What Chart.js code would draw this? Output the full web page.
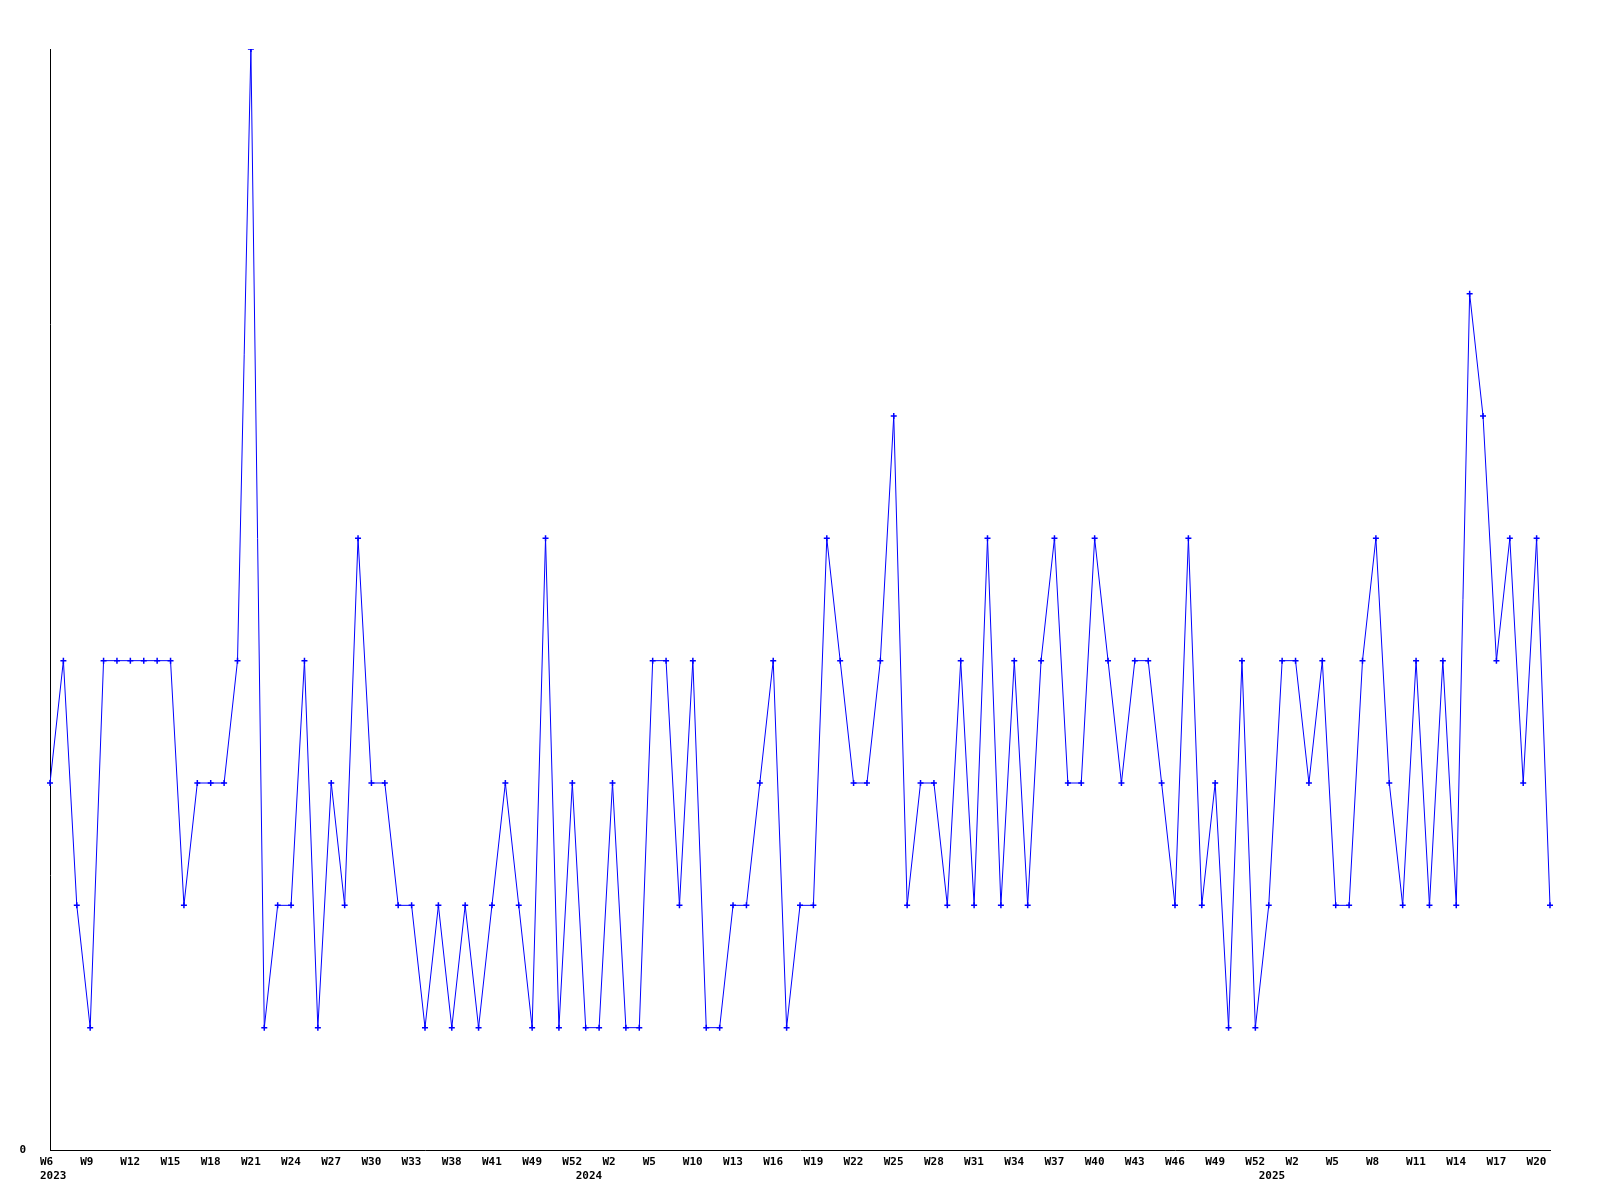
<!DOCTYPE html>
<html lang="en">
<head>
    <meta charset="UTF-8">
    <title>Weekly count</title>
    <script src="https://cdn.jsdelivr.net/npm/chart.js@4.4.1/dist/chart.umd.min.js"></script>
    <style>
        html, body {
            margin: 0;
            padding: 0;
            background: #fff;
        }

        #wrap {
            width: 1600px;
            height: 1200px;
        }
    </style>
</head>
<body>
    <div id="wrap"><canvas id="weeklyChart" width="1600" height="1200"></canvas></div>

    <script>
        // Week numbers per year (some weeks have no entry)
        const years = ['2023', '2024', '2025'];
        const weeks2023 = [6, 7, 8, 9, 10, 11, 12, 13, 14, 15, 16, 17, 18, 19, 20, 21, 22, 23, 24, 25, 26, 27, 28, 29, 30, 31, 32, 33,
                           35, 36, 38, 39, 40, 41, 44, 47, 49, 50, 51, 52];
        const weeks2024 = [0, 1, 2, 3, 4, 5, 7, 8, 10, 11, 12, 13, 14, 15, 16, 17, 18, 19, 20, 21, 22, 23, 24, 25, 26, 27, 28, 29, 30,
                           31, 32, 33, 34, 35, 36, 37, 38, 39, 40, 41, 42, 43, 44, 45, 46, 47, 48, 49, 50, 51, 52];
        const weeks2025 = [0, 1, 2, 3, 4, 5, 6, 7, 8, 9, 10, 11, 12, 13, 14, 15, 16, 17, 18, 19, 20, 21];

        // Count per week
        const values = [
            3, 4, 2, 1, 4, 4, 4, 4, 4, 4, 2, 3, 3, 3, 4, 9, 1, 2, 2, 4,
            1, 3, 2, 5, 3, 3, 2, 2, 1, 2, 1, 2, 1, 2, 3, 2, 1, 5, 1,
            3, 1, 1, 3, 1, 1, 4, 4, 2, 4, 1, 1, 2, 2, 3, 4, 1, 2, 2, 5,
            4, 3, 3, 4, 6, 2, 3, 3, 2, 4, 2, 5, 2, 4, 2, 4, 5, 3, 3,
            5, 4, 3, 4, 4, 3, 2, 5, 2, 3, 1, 4, 1, 2, 4, 4, 3, 4, 2, 2,
            4, 5, 3, 2, 4, 2, 4, 2, 7, 6, 4, 5, 3, 5, 2
        ];

        const yMax = 9;
        const labelEvery = 3;

        // categories + where each year starts
        const weekLists = [weeks2023, weeks2024, weeks2025];
        const categories = [];
        const yearAt = {};
        years.forEach((y, i) => {
            yearAt[categories.length] = y;
            weekLists[i].forEach(w => categories.push('W' + w));
        });

        const tickFont = {
            family: "'DejaVu Sans Mono', 'Liberation Mono', monospace",
            size: 11,
            weight: 'bold',
            lineHeight: 1.3
        };

        new Chart(document.getElementById('weeklyChart'), {
            type: 'line',
            data: {
                labels: categories,
                datasets: [{
                    data: values,
                    borderColor: '#0000ff',
                    backgroundColor: '#0000ff',
                    borderWidth: 1,
                    tension: 0,
                    fill: false,
                    pointStyle: 'cross',
                    pointRadius: 3,
                    pointBorderWidth: 1.5,
                    pointBorderColor: '#0000ff'
                }]
            },
            options: {
                responsive: false,
                animation: false,
                layout: {
                    padding: { top: 49, right: 50, left: 0, bottom: 0 }
                },
                plugins: {
                    legend: { display: false },
                    tooltip: { enabled: false }
                },
                scales: {
                    x: {
                        type: 'category',
                        offset: false,
                        grid: { display: false, drawTicks: false },
                        border: { display: true, color: '#000', width: 1 },
                        ticks: {
                            autoSkip: false,
                            maxRotation: 0,
                            minRotation: 0,
                            align: 'start',
                            labelOffset: -10,
                            padding: 5,
                            color: '#000',
                            font: tickFont,
                            callback: (v, i) => [i % labelEvery === 0 ? categories[i] : '', yearAt[i] || '']
                        },
                        afterFit: scale => { scale.height = 50; }
                    },
                    y: {
                        min: 0,
                        max: yMax,
                        grid: { display: false, drawTicks: false },
                        border: { display: true, color: '#000', width: 1 },
                        ticks: {
                            padding: 24,
                            color: '#000',
                            font: tickFont
                        },
                        afterBuildTicks: scale => {
                            scale.ticks = scale.ticks.filter(t => t.value === 0);
                        },
                        afterFit: scale => { scale.width = 50; }
                    }
                }
            }
        });
    </script>
</body>
</html>
